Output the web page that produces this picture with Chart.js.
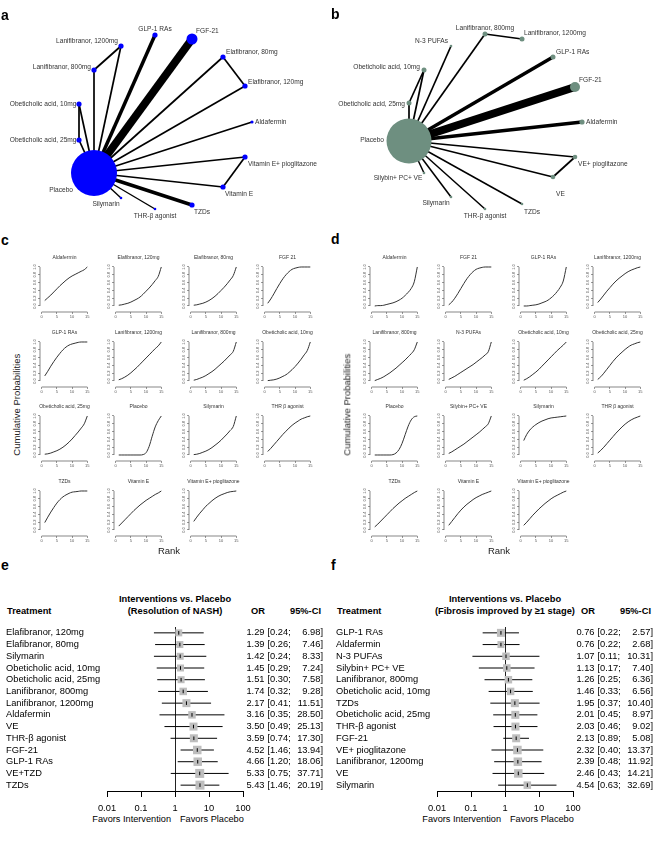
<!DOCTYPE html>
<html>
<head>
<meta charset="utf-8">
<title>NASH network meta-analysis</title>
<script src="https://cdn.jsdelivr.net/npm/chart.js@4.4.1/dist/chart.umd.min.js"></script>
<style>
  body { margin: 0; background: #fff; }
  #page { position: relative; width: 660px; height: 843px; overflow: hidden; background: #fff;
          font-family: Arial, "Liberation Sans", sans-serif; color: #000; }
  #page canvas { position: absolute; }
  .txt { position: absolute; white-space: nowrap; }
</style>
</head>
<body>
<div id="page"></div>
<script>
// ---------- network a (resolution of NASH) ----------
const nodesA = ['Placebo', 'FGF-21', 'GLP-1 RAs', 'Lanifibranor, 1200mg', 'Lanifibranor, 800mg',
  'Obeticholic acid, 10mg', 'Obeticholic acid, 25mg', 'Elafibranor, 80mg', 'Elafibranor, 120mg',
  'Aldafermin', 'Vitamin E+ pioglitazone', 'Vitamin E', 'TZDs', 'THR-β agonist', 'Silymarin'];
const nodeXA = [94, 192, 155, 121, 94, 79, 79, 223, 245, 252, 245, 223, 192, 155, 121];
const nodeYA = [173, 39, 35, 46, 70, 104, 140, 57, 86, 122, 157, 187, 205, 209, 198];
const nodeWeightA = [23, 5.5, 2.6, 2.6, 2.6, 2.6, 2.6, 2.6, 2.6, 1.6, 2.6, 2.6, 2.6, 1.3, 1.3];
const edgeFromA = [0, 0, 0, 0, 3, 0, 0, 5, 0, 0, 7, 0, 0, 10, 0, 0, 0, 0];
const edgeToA = [1, 2, 3, 4, 4, 5, 6, 6, 7, 8, 8, 9, 10, 11, 11, 12, 13, 14];
const edgeStudiesA = [8, 3.5, 1.7, 1.7, 1.7, 1.7, 1.7, 1.7, 1.7, 1.7, 1.7, 1.7, 1.7, 1.7, 1.7, 3.5, 1.4, 1.4];

// ---------- network b (fibrosis) ----------
const nodesB = ['Placebo', 'N-3 PUFAs', 'Lanifibranor, 800mg', 'Lanifibranor, 1200mg', 'GLP-1 RAs', 'FGF-21',
  'Aldafermin', 'VE+ pioglitazone', 'VE', 'TZDs', 'THR-β agonist', 'Silymarin', 'Silybin+ PC+ VE',
  'Obeticholic acid, 25mg', 'Obeticholic acid, 10mg'];
const nodeXB = [79, 121, 155, 192, 223, 245, 252, 245, 223, 192, 155, 121, 94, 79, 94];
const nodeYB = [141, 46, 34, 39, 57, 87, 122, 157, 177, 204, 209, 197, 173, 103, 70];
const nodeWeightB = [22.5, 1.3, 2.5, 2.5, 2.5, 5, 2.6, 2.3, 2.3, 1.3, 1.3, 1.3, 1.3, 2.5, 2.5];
const edgeFromB = [0, 0, 2, 0, 0, 0, 0, 7, 0, 0, 0, 0, 0, 0, 0, 13];
const edgeToB = [1, 2, 3, 4, 5, 6, 7, 8, 8, 9, 10, 11, 12, 13, 14, 14];
const edgeStudiesB = [1.7, 1.7, 1.7, 3.5, 8, 3.5, 1.7, 1.7, 1.7, 1.5, 1.5, 1.5, 1.5, 1.7, 1.7, 1.7];

// label placement (offset from node, text align)
const labelPosA = [[-21, 17, 'right'], [4, -8, 'left'], [0, -6, 'center'], [-3, -5, 'right'], [-3, -3, 'right'],
  [-2.5, 0, 'right'], [-2.5, 0, 'right'], [3, -5, 'left'], [3, -4, 'left'], [3, 0, 'left'],
  [3, 7, 'left'], [2, 7, 'left'], [2, 7, 'left'], [0, 7, 'center'], [-15, 6, 'center']];
const labelPosB = [[-25, -1, 'right'], [-3, -5, 'right'], [0, -6, 'center'], [2, -6, 'left'], [3, -5, 'left'],
  [4, -7, 'left'], [4, 0, 'left'], [3, 7, 'left'], [3, 17, 'left'], [2, 8, 'left'],
  [0, 7, 'center'], [-15, 6, 'center'], [-26, 5, 'center'], [-4, 1, 'right'], [-4, -3, 'right']];

// ---------- cumulative ranking curves ----------
const ranks = [1, 2, 3, 4, 5, 6, 7, 8, 9, 10, 11, 12, 13, 14, 15];
const rankTicks = [0, 5, 10, 15];
const probTicks = [0, 0.2, 0.4, 0.6, 0.8, 1.0];

const sucraNamesC = ['Aldafermin', 'Elafibranor, 120mg', 'Elafibranor, 80mg', 'FGF 21', 'GLP-1 RAs',
  'Lanifibranor, 1200mg', 'Lanifibranor, 800mg', 'Obeticholic acid, 10mg', 'Obeticholic acid, 25mg',
  'Placebo', 'Silymarin', 'THR β agonist', 'TZDs', 'Vitamin E', 'Vitamin E+ pioglitazone'];
const sucraC = [
  [0.14, 0.21, 0.28, 0.36, 0.44, 0.52, 0.59, 0.66, 0.72, 0.77, 0.81, 0.85, 0.89, 0.93, 1.0],
  [0.02, 0.03, 0.05, 0.07, 0.10, 0.14, 0.18, 0.23, 0.30, 0.38, 0.46, 0.55, 0.65, 0.76, 1.0],
  [0.02, 0.03, 0.05, 0.07, 0.10, 0.14, 0.19, 0.25, 0.32, 0.40, 0.48, 0.57, 0.67, 0.78, 1.0],
  [0.07, 0.18, 0.31, 0.45, 0.58, 0.70, 0.80, 0.88, 0.94, 0.97, 0.99, 1.0, 1.0, 1.0, 1.0],
  [0.13, 0.25, 0.38, 0.50, 0.61, 0.71, 0.80, 0.87, 0.92, 0.95, 0.97, 0.99, 1.0, 1.0, 1.0],
  [0.03, 0.06, 0.10, 0.15, 0.21, 0.28, 0.35, 0.43, 0.51, 0.59, 0.67, 0.75, 0.83, 0.90, 1.0],
  [0.02, 0.04, 0.07, 0.10, 0.14, 0.19, 0.24, 0.30, 0.37, 0.44, 0.51, 0.59, 0.67, 0.76, 1.0],
  [0.01, 0.02, 0.03, 0.05, 0.08, 0.12, 0.16, 0.22, 0.29, 0.37, 0.46, 0.56, 0.67, 0.78, 1.0],
  [0.02, 0.03, 0.05, 0.08, 0.11, 0.15, 0.20, 0.26, 0.33, 0.41, 0.50, 0.59, 0.69, 0.80, 1.0],
  [0, 0, 0, 0, 0, 0, 0, 0, 0.01, 0.06, 0.22, 0.48, 0.72, 0.88, 1.0],
  [0.01, 0.02, 0.04, 0.07, 0.10, 0.14, 0.19, 0.25, 0.31, 0.38, 0.46, 0.54, 0.63, 0.73, 1.0],
  [0.09, 0.17, 0.26, 0.35, 0.44, 0.53, 0.61, 0.69, 0.76, 0.82, 0.87, 0.92, 0.95, 0.98, 1.0],
  [0.19, 0.33, 0.46, 0.58, 0.69, 0.78, 0.85, 0.90, 0.94, 0.97, 0.98, 0.99, 1.0, 1.0, 1.0],
  [0.10, 0.18, 0.26, 0.34, 0.42, 0.50, 0.57, 0.64, 0.70, 0.76, 0.81, 0.86, 0.91, 0.95, 1.0],
  [0.22, 0.33, 0.43, 0.52, 0.61, 0.68, 0.75, 0.81, 0.86, 0.90, 0.93, 0.96, 0.98, 0.99, 1.0]
];

const sucraNamesD = ['Aldafermin', 'FGF 21', 'GLP-1 RAs', 'Lanifibranor, 1200mg', 'Lanifibranor, 800mg',
  'N-3 PUFAs', 'Obeticholic acid, 10mg', 'Obeticholic acid, 25mg', 'Placebo', 'Silybin+ PC+ VE',
  'Silymarin', 'THR β agonist', 'TZDs', 'Vitamin E', 'Vitamin E+ pioglitazone'];
const sucraD = [
  [0.0, 0.01, 0.01, 0.02, 0.04, 0.06, 0.08, 0.11, 0.15, 0.20, 0.27, 0.35, 0.45, 0.62, 1.0],
  [0.03, 0.10, 0.20, 0.32, 0.45, 0.58, 0.70, 0.80, 0.88, 0.94, 0.97, 0.99, 1.0, 1.0, 1.0],
  [0.0, 0.0, 0.01, 0.02, 0.03, 0.05, 0.08, 0.11, 0.15, 0.21, 0.28, 0.37, 0.48, 0.64, 1.0],
  [0.09, 0.18, 0.28, 0.38, 0.47, 0.56, 0.64, 0.71, 0.77, 0.83, 0.88, 0.92, 0.95, 0.98, 1.0],
  [0.01, 0.04, 0.07, 0.11, 0.16, 0.21, 0.27, 0.33, 0.40, 0.47, 0.54, 0.62, 0.70, 0.80, 1.0],
  [0.04, 0.08, 0.12, 0.17, 0.22, 0.27, 0.32, 0.37, 0.42, 0.48, 0.54, 0.60, 0.67, 0.75, 1.0],
  [0.02, 0.06, 0.11, 0.17, 0.23, 0.30, 0.38, 0.46, 0.54, 0.62, 0.70, 0.78, 0.85, 0.92, 1.0],
  [0.04, 0.11, 0.20, 0.30, 0.40, 0.50, 0.59, 0.67, 0.74, 0.81, 0.87, 0.92, 0.95, 0.98, 1.0],
  [0, 0, 0, 0, 0, 0, 0.01, 0.05, 0.14, 0.30, 0.52, 0.74, 0.90, 0.98, 1.0],
  [0.04, 0.08, 0.13, 0.18, 0.23, 0.28, 0.34, 0.40, 0.46, 0.52, 0.58, 0.65, 0.72, 0.80, 1.0],
  [0.37, 0.53, 0.64, 0.72, 0.78, 0.83, 0.87, 0.90, 0.93, 0.95, 0.96, 0.97, 0.98, 0.99, 1.0],
  [0.05, 0.12, 0.20, 0.29, 0.38, 0.47, 0.56, 0.64, 0.72, 0.79, 0.85, 0.90, 0.94, 0.97, 1.0],
  [0.08, 0.15, 0.23, 0.31, 0.39, 0.47, 0.55, 0.62, 0.69, 0.75, 0.81, 0.86, 0.91, 0.96, 1.0],
  [0.12, 0.22, 0.32, 0.42, 0.51, 0.59, 0.66, 0.72, 0.78, 0.83, 0.87, 0.91, 0.94, 0.97, 1.0],
  [0.12, 0.20, 0.29, 0.38, 0.46, 0.54, 0.61, 0.68, 0.74, 0.80, 0.85, 0.89, 0.93, 0.97, 1.0]
];

// ---------- forest e (resolution of NASH) ----------
const forestNamesE = ['Elafibranor, 120mg', 'Elafibranor, 80mg', 'Silymarin', 'Obeticholic acid, 10mg',
  'Obeticholic acid, 25mg', 'Lanifibranor, 800mg', 'Lanifibranor, 1200mg', 'Aldafermin', 'VE',
  'THR-β agonist', 'FGF-21', 'GLP-1 RAs', 'VE+TZD', 'TZDs'];
const orE = [1.29, 1.39, 1.42, 1.45, 1.51, 1.74, 2.17, 3.16, 3.50, 3.59, 4.52, 4.66, 5.33, 5.43];
const loE = [0.24, 0.26, 0.24, 0.29, 0.30, 0.32, 0.41, 0.35, 0.49, 0.74, 1.46, 1.20, 0.75, 1.46];
const hiE = [6.98, 7.46, 8.33, 7.24, 7.58, 9.28, 11.51, 28.50, 25.13, 17.30, 13.94, 18.06, 37.71, 20.19];
const weightE = [7, 7, 7, 7, 7, 7.5, 8, 7.5, 8, 8, 8.5, 8.5, 9, 9];

// ---------- forest f (fibrosis improved by >=1 stage) ----------
const forestNamesF = ['GLP-1 RAs', 'Aldafermin', 'N-3 PUFAs', 'Silybin+ PC+ VE', 'Lanifibranor, 800mg',
  'Obeticholic acid, 10mg', 'TZDs', 'Obeticholic acid, 25mg', 'THR-β agonist', 'FGF-21',
  'VE+ pioglitazone', 'Lanifibranor, 1200mg', 'VE', 'Silymarin'];
const orF = [0.76, 0.76, 1.07, 1.13, 1.26, 1.46, 1.95, 2.01, 2.03, 2.13, 2.32, 2.39, 2.46, 4.54];
const loF = [0.22, 0.22, 0.11, 0.17, 0.25, 0.33, 0.37, 0.45, 0.46, 0.89, 0.40, 0.48, 0.43, 0.63];
const hiF = [2.57, 2.68, 10.31, 7.40, 6.36, 6.56, 10.40, 8.97, 9.02, 5.08, 13.37, 11.92, 14.21, 32.69];
const weightF = [8, 7, 7.5, 7.5, 7.5, 7.5, 8, 8, 8, 8, 8.5, 8.5, 8.5, 7.5];
const orTicks = [0.01, 0.1, 1, 10, 100];

// ---------- helpers ----------
const FONT = 'Arial, "Liberation Sans", sans-serif';
const page = document.getElementById('page');
Chart.defaults.font.family = FONT;

const base = {
  animation: false, responsive: false, devicePixelRatio: 1, events: [],
  plugins: { legend: { display: false }, tooltip: { enabled: false } }
};

function makeCanvas(x, y, w, h) {
  const c = document.createElement('canvas');
  c.width = w; c.height = h;
  c.style.left = x + 'px'; c.style.top = y + 'px';
  c.style.width = w + 'px'; c.style.height = h + 'px';
  page.appendChild(c);
  return c;
}

// text centred vertically on y
function addText(str, x, y, o = {}) {
  const size = o.size || 9.3;
  const d = document.createElement('div');
  d.className = 'txt';
  d.textContent = str;
  d.style.fontSize = size + 'px';
  d.style.lineHeight = (size * 1.2) + 'px';
  if (o.bold) d.style.fontWeight = 'bold';
  if (o.color) d.style.color = o.color;
  d.style.top = (y - size * 0.6) + 'px';
  const align = o.align || 'left';
  if (o.rotate) {
    d.style.left = (x - 150) + 'px'; d.style.width = '300px';
    d.style.textAlign = 'center'; d.style.transform = 'rotate(-90deg)';
  } else if (align === 'left') {
    d.style.left = x + 'px';
  } else if (align === 'right') {
    d.style.right = (660 - x) + 'px';
  } else {
    d.style.left = (x - 200) + 'px'; d.style.width = '400px'; d.style.textAlign = 'center';
  }
  page.appendChild(d);
}

// ---------- network plots ----------
function drawNetwork(left, nodes, xs, ys, weights, from, to, widths, labelPos, color) {
  const cv = makeCanvas(left, 0, 330, 225);
  const datasets = [{
    data: nodes.map((n, i) => ({ x: xs[i], y: ys[i] })),
    pointRadius: weights, pointBackgroundColor: color, pointBorderWidth: 0, order: 0
  }];
  from.forEach((f, k) => {
    datasets.push({
      data: [{ x: xs[f], y: ys[f] }, { x: xs[to[k]], y: ys[to[k]] }],
      showLine: true, borderColor: '#000', borderWidth: widths[k], pointRadius: 0, order: 1
    });
  });
  const labels = {
    id: 'netLabels',
    afterDatasetsDraw(chart) {
      const { ctx, scales: { x, y } } = chart;
      ctx.save();
      ctx.font = '6.6px ' + FONT;
      ctx.fillStyle = '#333';
      ctx.textBaseline = 'middle';
      nodes.forEach((n, i) => {
        const [dx, dy, al] = labelPos[i];
        ctx.textAlign = al;
        ctx.fillText(n, x.getPixelForValue(xs[i]) + dx, y.getPixelForValue(ys[i]) + dy);
      });
      ctx.restore();
    }
  };
  new Chart(cv, {
    type: 'scatter',
    data: { datasets },
    options: {
      ...base,
      layout: { padding: 0, autoPadding: false },
      scales: {
        x: { display: false, min: 0, max: 330 },
        y: { display: false, min: 0, max: 225, reverse: true }
      }
    },
    plugins: [labels]
  });
}

// ---------- cumulative ranking small multiples ----------
function drawSucraPanel(panelX, names, curves) {
  names.forEach((name, i) => {
    const col = i % 4, row = Math.floor(i / 4);
    const L = Math.round(panelX + 26 + col * 74.3);
    const T = Math.round(253 + row * 74.5);
    const cv = makeCanvas(L, T, 66, 71);
    const decor = {
      id: 'sucraDecor',
      afterDraw(chart) {
        const { ctx, chartArea: a, scales: { x, y } } = chart;
        ctx.save();
        ctx.strokeStyle = '#555';
        ctx.lineWidth = 0.7;
        ctx.beginPath();
        ctx.moveTo(a.left, y.getPixelForValue(0));
        ctx.lineTo(a.left, y.getPixelForValue(1));
        ctx.moveTo(x.getPixelForValue(0), a.bottom);
        ctx.lineTo(x.getPixelForValue(15), a.bottom);
        ctx.stroke();
        // title
        ctx.font = '5px ' + FONT;
        ctx.fillStyle = '#333';
        ctx.textAlign = 'center';
        ctx.textBaseline = 'middle';
        ctx.fillText(name, (a.left + a.right) / 2, 5);
        // y tick labels, parallel to the axis
        ctx.font = '4px ' + FONT;
        ctx.fillStyle = '#555';
        probTicks.forEach(v => {
          ctx.save();
          ctx.translate(a.left - 5.5, y.getPixelForValue(v));
          ctx.rotate(-Math.PI / 2);
          ctx.fillText(v.toFixed(1), 0, 0);
          ctx.restore();
        });
        ctx.restore();
      }
    };
    const tickGrid = { drawOnChartArea: false, tickLength: 2, color: '#555', lineWidth: 0.6 };
    new Chart(cv, {
      type: 'scatter',
      data: {
        datasets: [{
          data: ranks.map((r, k) => ({ x: r, y: curves[i][k] })),
          showLine: true, borderColor: '#333', borderWidth: 1, pointRadius: 0,
          cubicInterpolationMode: 'monotone'
        }]
      },
      options: {
        ...base,
        layout: { padding: { top: 12, right: 3, left: 0, bottom: 0 }, autoPadding: false },
        scales: {
          x: {
            type: 'linear', min: -0.56, max: 15.56,
            afterBuildTicks: s => { s.ticks = rankTicks.map(v => ({ value: v })); },
            afterFit: s => { s.height = 12; },
            border: { display: false }, grid: tickGrid,
            ticks: { font: { size: 4 }, color: '#555', padding: 0, maxRotation: 0 }
          },
          y: {
            type: 'linear', min: -0.154, max: 1.051,
            afterBuildTicks: s => { s.ticks = probTicks.map(v => ({ value: v })); },
            afterFit: s => { s.width = 14; },
            border: { display: false }, grid: tickGrid,
            ticks: { display: false }
          }
        }
      },
      plugins: [decor]
    });
  });
}

// ---------- forest plots ----------
function drawForest(left, names, or, lo, hi, weight) {
  const cv = makeCanvas(left, 622, 330, 189);
  const datasets = [];
  names.forEach((n, i) => {
    datasets.push({
      data: [{ x: lo[i], y: i }, { x: hi[i], y: i }],
      showLine: true, borderColor: '#000', borderWidth: 1, pointRadius: 0, order: 2
    });
  });
  const est = or.map((v, i) => ({ x: v, y: i }));
  datasets.push({
    data: est, pointStyle: 'rect', pointRadius: weight.map(s => s / Math.SQRT2),
    pointBackgroundColor: '#bebebe', pointBorderWidth: 0, order: 1
  });
  datasets.push({
    data: est, pointStyle: 'line', pointRotation: 90, pointRadius: 1.8,
    pointBorderColor: '#000', pointBorderWidth: 1, order: 0
  });
  const table = {
    id: 'forestTable',
    beforeDatasetsDraw(chart) {
      const { ctx, chartArea: a, scales: { x } } = chart;
      const px = Math.round(x.getPixelForValue(1)) + 0.5;
      ctx.save();
      ctx.strokeStyle = '#222';
      ctx.lineWidth = 1;
      ctx.beginPath();
      ctx.moveTo(px, a.top);
      ctx.lineTo(px, a.bottom);
      ctx.stroke();
      ctx.restore();
    },
    afterDraw(chart) {
      const { ctx, scales: { y } } = chart;
      ctx.save();
      ctx.font = '9.3px ' + FONT;
      ctx.fillStyle = '#000';
      ctx.textBaseline = 'middle';
      names.forEach((n, i) => {
        const py = y.getPixelForValue(i);
        ctx.textAlign = 'left';
        ctx.fillText(n, 6, py);
        ctx.textAlign = 'right';
        ctx.fillText(or[i].toFixed(2), 264.5, py);
        ctx.textAlign = 'left';
        ctx.fillText('[' + lo[i].toFixed(2) + ';', 267.5, py);
        ctx.textAlign = 'right';
        ctx.fillText(hi[i].toFixed(2) + ']', 323, py);
      });
      ctx.restore();
    }
  };
  new Chart(cv, {
    type: 'scatter',
    data: { datasets },
    options: {
      ...base,
      layout: { padding: { left: 107, right: 87, top: 5, bottom: 0 }, autoPadding: false },
      scales: {
        x: {
          type: 'logarithmic', min: 0.01, max: 100,
          afterBuildTicks: s => { s.ticks = orTicks.map(v => ({ value: v })); },
          afterFit: s => { s.height = 20; },
          border: { display: true, color: '#000', width: 1 },
          grid: { drawOnChartArea: false, tickLength: 6, color: '#000', lineWidth: 1 },
          ticks: { font: { size: 9.3 }, color: '#000', padding: 6, maxRotation: 0, autoSkip: false,
                   callback: v => String(v) }
        },
        y: { type: 'linear', min: -0.5, max: 13.5, reverse: true, display: false }
      }
    },
    plugins: [table]
  });
}

// ---------- build page ----------
drawNetwork(0, nodesA, nodeXA, nodeYA, nodeWeightA, edgeFromA, edgeToA, edgeStudiesA, labelPosA, '#0000ff');
drawNetwork(330, nodesB, nodeXB, nodeYB, nodeWeightB, edgeFromB, edgeToB, edgeStudiesB, labelPosB, '#6e8f80');
drawSucraPanel(0, sucraNamesC, sucraC);
drawSucraPanel(330, sucraNamesD, sucraD);
drawForest(0, forestNamesE, orE, loE, hiE, weightE);
drawForest(330, forestNamesF, orF, loF, hiF, weightF);

// panel letters
addText('a', 1, 15, { size: 14, bold: true });
addText('b', 331, 14, { size: 14, bold: true });
addText('c', 1, 240, { size: 14, bold: true });
addText('d', 331, 239, { size: 14, bold: true });
addText('e', 1, 565, { size: 14, bold: true });
addText('f', 331, 565, { size: 14, bold: true });

// axis titles of the ranking panels
[0, 330].forEach(dx => {
  addText('Cumulative Probabilities', dx + 17, 405, { size: 9.5, rotate: true, color: '#222' });
  addText('Rank', dx + 169, 551, { size: 9.5, align: 'center', color: '#222' });
});

// forest headers
const subTitles = ['(Resolution of NASH)', '(Fibrosis improved by ≥1 stage)'];
[0, 330].forEach((dx, k) => {
  addText('Interventions vs. Placebo', dx + 175, 600, { size: 9.3, bold: true, align: 'center' });
  addText(subTitles[k], dx + 175, 612, { size: 9.3, bold: true, align: 'center' });
  addText('Treatment', dx + 7, 612, { size: 9.3, bold: true });
  addText('OR', dx + 265, 612, { size: 9.3, bold: true, align: 'right' });
  addText('95%-CI', dx + 321, 612, { size: 9.3, bold: true, align: 'right' });
  addText('Favors Intervention', dx + 171, 820, { size: 9.2, align: 'right' });
  addText('Favors Placebo', dx + 180, 820, { size: 9.2 });
});
</script>
</body>
</html>
